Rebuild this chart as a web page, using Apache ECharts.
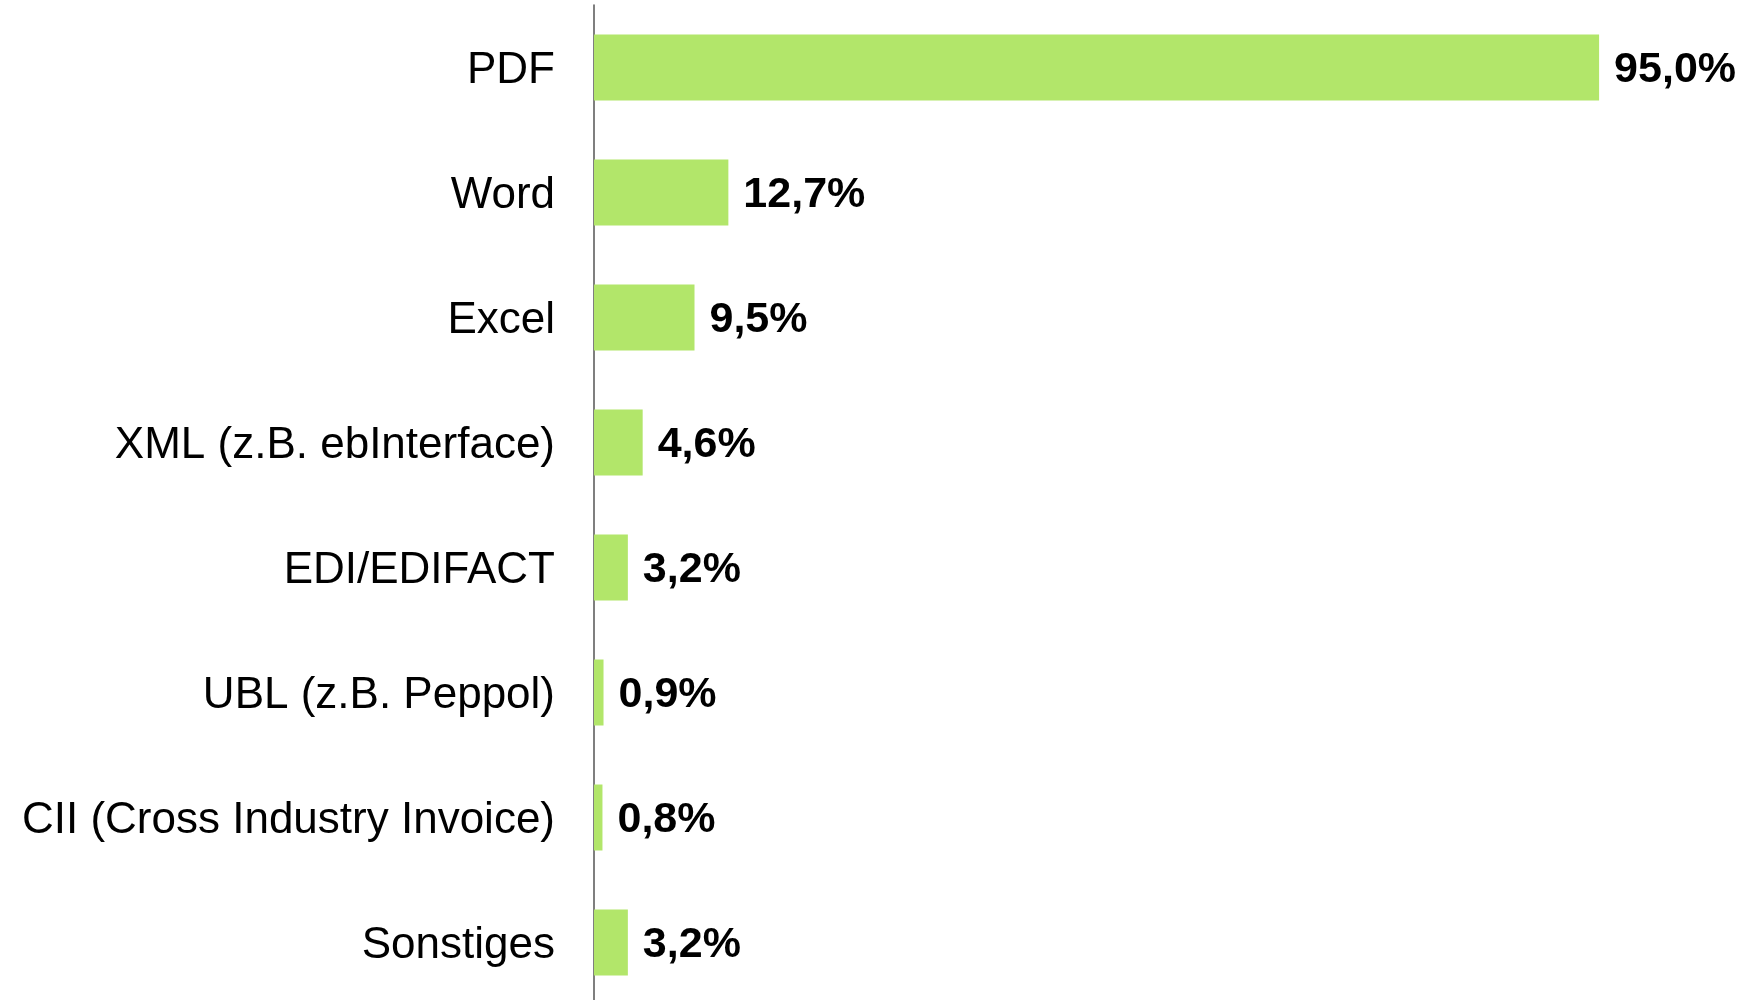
<!DOCTYPE html>
<html>
<head>
<meta charset="utf-8">
<script src="https://cdn.jsdelivr.net/npm/echarts@6/dist/echarts.min.js"></script>
<style>
  html, body { margin: 0; padding: 0; background: #fff; }
  #chart { width: 1745px; height: 1000px; }
</style>
</head>
<body>
<div id="chart"></div>
<script>
// Rechnungsformate (Anteil in %)
const categories = ['PDF', 'Word', 'Excel', 'XML (z.B. ebInterface)', 'EDI/EDIFACT',
    'UBL (z.B. Peppol)', 'CII (Cross Industry Invoice)', 'Sonstiges'];
const values = [95.0, 12.7, 9.5, 4.6, 3.2, 0.9, 0.8, 3.2];

const barColor = '#b2e66a';

function fmtPct(v) {
    return v.toFixed(1).replace('.', ',') + '%';
}

let myChart = echarts.init(document.getElementById('chart'));
myChart.setOption({
    animation: false,
    grid: {
        left: 594,
        top: 5,
        width: 1058,
        height: 1000,
        outerBoundsMode: 'none',
        containLabel: false
    },
    xAxis: {
        type: 'value',
        min: 0,
        max: 100,
        show: false
    },
    yAxis: {
        type: 'category',
        data: categories,
        inverse: true,
        axisLine: { show: true, lineStyle: { color: '#555', width: 1.5 } },
        axisTick: { show: false },
        axisLabel: {
            margin: 39,
            formatter: v => '{t|' + v + '}',
            rich: {
                t: {
                    color: '#000',
                    fontFamily: 'Liberation Sans, Arial, sans-serif',
                    fontSize: 44,
                    padding: [7, 0, 0, 0]
                }
            }
        }
    },
    series: [{
        type: 'bar',
        data: values,
        barWidth: 66,
        itemStyle: { color: barColor },
        label: {
            show: true,
            position: 'right',
            distance: 15,
            offset: [0, 3],
            color: '#000',
            fontWeight: 'bold',
            fontFamily: 'Liberation Sans, Arial, sans-serif',
            fontSize: 43,
            formatter: p => fmtPct(p.value)
        }
    }]
});
window.addEventListener('resize', function() {
    myChart.resize();
});
</script>
</body>
</html>
